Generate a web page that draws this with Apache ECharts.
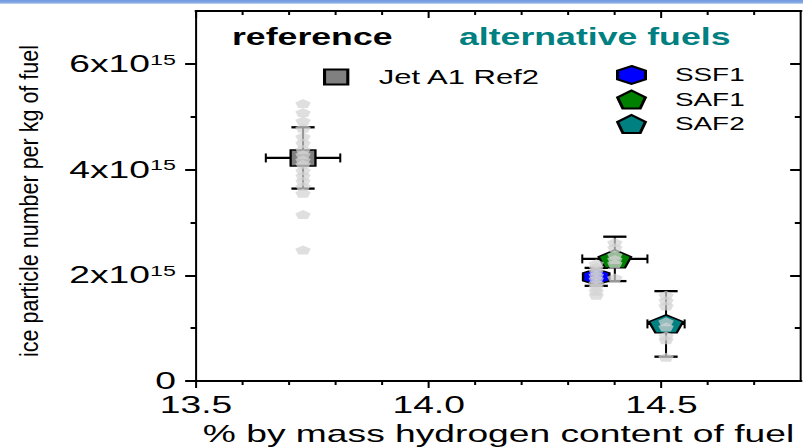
<!DOCTYPE html>
<html><head><meta charset="utf-8">
<script src="https://cdn.jsdelivr.net/npm/echarts@6/dist/echarts.min.js"></script>
<style>
html,body{margin:0;padding:0;background:#fff;overflow:hidden;}
#wrap{width:803px;height:447px;position:relative;overflow:hidden;background:#fff;}
#chart{width:518px;height:447px;transform:scaleX(1.55019);transform-origin:0 0;}
</style></head><body>
<div id="wrap"><div id="chart"></div></div>
<script>
// ---- data ----
const xMajorTicks = [13.5, 14.0, 14.5];
const xMinorTicks = [13.6, 13.7, 13.8, 13.9, 14.1, 14.2, 14.3, 14.4, 14.6, 14.7];
const yMajorTicks = [0, 2e15, 4e15, 6e15];
const yMinorTicks = [1e15, 3e15, 5e15];
const fuels = ['Jet A1 Ref2', 'SSF1', 'SAF1', 'SAF2'];
const meanH = [13.73, 14.36, 14.40, 14.51];
const meanN = [4.22e15, 1.97e15, 2.31e15, 1.08e15];
const errH = [0.08, 0.02, 0.07, 0.04];
const errN = [0.58e15, 0.17e15, 0.42e15, 0.62e15];
const refPointsN = [5.25e15, 5.08e15, 4.92e15, 4.78e15, 4.62e15, 4.50e15, 4.38e15, 4.28e15, 4.18e15, 4.10e15, 3.98e15, 3.88e15, 3.78e15, 3.68e15, 3.55e15, 3.15e15, 2.48e15];
const ssf1PointsN = [2.22e15, 2.15e15, 2.08e15, 2.00e15, 1.93e15, 1.85e15, 1.78e15, 1.70e15, 1.62e15];
const saf1PointsN = [2.62e15, 2.52e15, 2.38e15, 2.30e15, 2.22e15, 1.95e15];
const saf2PointsN = [1.62e15, 1.52e15, 1.42e15, 1.12e15, 1.02e15, 0.85e15, 0.78e15, 0.45e15];

// ---- styles ----
const SX = 803 / 518;
const FONT = '"Liberation Sans", Arial, sans-serif';
const PENT = 'path://M50,0 L100,38 L81,100 L19,100 L0,38 Z';
const HEX = 'path://M50,0 L100,25 L100,75 L50,100 L0,75 L0,25 Z';
const fuelSymbols = ['rect', HEX, PENT, PENT];
const fuelSizes = [[16, 16], [17, 16], [21, 18], [22, 18]];
const fuelColors = ['#808080', '#0000ff', '#008000', '#008080'];

const pointSets = [refPointsN, ssf1PointsN, saf1PointsN, saf2PointsN];
const grayData = [];
pointSets.forEach((arr, i) => arr.forEach(v => grayData.push([meanH[i], v])));

const XMIN = 13.5, XMAX = 14.8, YMIN = 0, YMAX = 7e15;

function xAxisDef(pos, custom, len, inside, withLabel, showLine, interval) {
  return {
    type: 'value', position: pos, min: XMIN, max: XMAX, interval: interval,
    axisLine: { show: showLine, onZero: false, lineStyle: { color: '#000', width: 2 } },
    axisTick: { show: true, inside: inside, length: len, customValues: custom, lineStyle: { color: '#000', width: 1.3 } },
    axisLabel: withLabel ? { show: true, customValues: custom, formatter: v => v.toFixed(1), fontSize: 24, color: '#000', margin: 12, fontFamily: FONT } : { show: false },
    splitLine: { show: false }
  };
}
function yAxisDef(pos, custom, len, inside, withLabel, showLine, interval) {
  return {
    type: 'value', position: pos, min: YMIN, max: YMAX, interval: interval,
    axisLine: { show: showLine, onZero: false, lineStyle: { color: '#000', width: 1.3 } },
    axisTick: { show: true, inside: inside, length: len, customValues: custom, lineStyle: { color: '#000', width: 2 } },
    axisLabel: withLabel ? {
      show: true, customValues: custom, margin: 13,
      formatter: v => v === 0 ? '{a|0}' : '{a|' + Math.round(v / 1e15) + 'x10}{b|15}',
      rich: {
        a: { fontSize: 24, color: '#000', fontFamily: FONT, lineHeight: 24 },
        b: { fontSize: 15, color: '#000', fontFamily: FONT, verticalAlign: 'top', lineHeight: 15 }
      }
    } : { show: false },
    splitLine: { show: false }
  };
}

const xAxes = [
  xAxisDef('bottom', xMajorTicks, 7, false, true, true, 0.5),
  xAxisDef('bottom', xMinorTicks, 4, false, false, false, 0.1),
  xAxisDef('top', xMajorTicks, 7, true, false, true, 0.5),
  xAxisDef('top', xMinorTicks, 4, true, false, false, 0.1)
];
xAxes[0].name = '% by mass hydrogen content of fuel';
xAxes[0].nameLocation = 'middle';
xAxes[0].nameGap = 38;
xAxes[0].nameTextStyle = { fontSize: 24, color: '#000', fontFamily: FONT };

const yAxes = [
  yAxisDef('left', yMajorTicks, 7, false, true, true, 2e15),
  yAxisDef('left', yMinorTicks, 3.5, false, false, false, 1e15),
  yAxisDef('right', yMajorTicks, 7, true, false, true, 2e15),
  yAxisDef('right', yMinorTicks, 4, true, false, false, 1e15)
];

const series = [];
// error bars
series.push({
  type: 'custom', name: 'errorbars', xAxisIndex: 0, yAxisIndex: 0, z: 1, silent: true,
  data: fuels.map((f, i) => [meanH[i], meanN[i], errH[i], errN[i]]),
  renderItem: function (params, api) {
    const x = api.value(0), y = api.value(1), ex = api.value(2), ey = api.value(3);
    const l = api.coord([x - ex, y]), r = api.coord([x + ex, y]);
    const t = api.coord([x, y + ey]), b = api.coord([x, y - ey]);
    const capW = 7.5, capH = 4.5;
    const vS = { stroke: '#000', lineWidth: 1.3 };
    const hS = { stroke: '#000', lineWidth: 2.3 };
    return {
      type: 'group', children: [
        { type: 'line', shape: { x1: l[0], y1: l[1], x2: r[0], y2: r[1] }, style: hS },
        { type: 'line', shape: { x1: t[0], y1: t[1], x2: b[0], y2: b[1] }, style: vS },
        { type: 'line', shape: { x1: t[0] - capW, y1: t[1], x2: t[0] + capW, y2: t[1] }, style: hS },
        { type: 'line', shape: { x1: b[0] - capW, y1: b[1], x2: b[0] + capW, y2: b[1] }, style: hS },
        { type: 'line', shape: { x1: l[0], y1: l[1] - capH, x2: l[0], y2: l[1] + capH }, style: vS },
        { type: 'line', shape: { x1: r[0], y1: r[1] - capH, x2: r[0], y2: r[1] + capH }, style: vS }
      ]
    };
  }
});
// mean markers
fuels.forEach((f, i) => {
  series.push({
    type: 'scatter', name: f, xAxisIndex: 0, yAxisIndex: 0, z: 3,
    symbol: fuelSymbols[i], symbolSize: fuelSizes[i],
    itemStyle: { color: fuelColors[i], borderColor: '#000', borderWidth: 1.5, opacity: 1 },
    emphasis: { disabled: true },
    data: [[meanH[i], meanN[i]]]
  });
});
// individual measurements
series.push({
  type: 'scatter', name: 'individual', xAxisIndex: 0, yAxisIndex: 0, z: 4, silent: true,
  symbol: PENT, symbolSize: [10, 9],
  itemStyle: { color: '#d2d2d2', opacity: 0.72, borderWidth: 0 },
  emphasis: { disabled: true },
  data: grayData
});

const option = {
  animation: false,
  backgroundColor: '#fff',
  textStyle: { fontFamily: FONT },
  grid: { left: 196 / SX, right: 518 - 801 / SX, top: 11, bottom: 66, containLabel: false, outerBoundsMode: 'none' },
  xAxis: xAxes,
  yAxis: yAxes,
  title: [
    { text: 'reference', left: 232 / SX, top: 25, padding: 0, textStyle: { fontSize: 23, fontWeight: 'bold', color: '#000', fontFamily: FONT } },
    { text: 'alternative fuels', left: 459 / SX, top: 25, padding: 0, textStyle: { fontSize: 23, fontWeight: 'bold', color: '#008080', fontFamily: FONT } }
  ],
  legend: [
    {
      data: ['Jet A1 Ref2'], left: 323 / SX, top: 67, padding: 0, selectedMode: false,
      itemWidth: 15, itemHeight: 15,
      textStyle: { fontSize: 20, color: '#000', fontFamily: FONT, padding: [0, 0, 0, 15] }
    },
    {
      data: ['SSF1', 'SAF1', 'SAF2'], orient: 'vertical', left: 616 / SX, top: 65, padding: 0, selectedMode: false,
      itemWidth: 18, itemHeight: 19, itemGap: 4.5,
      textStyle: { fontSize: 18, color: '#000', fontFamily: FONT, padding: [0, 0, 0, 14] }
    }
  ],
  graphic: [
    {
      type: 'rect', x: 0, y: 0, shape: { width: 518, height: 4 }, silent: true,
      style: { fill: new echarts.graphic.LinearGradient(0, 0, 0, 1, [
        { offset: 0, color: '#6f98dc' }, { offset: 0.65, color: '#85aae4' }, { offset: 1, color: '#d2e2f6' }]) }
    },
    {
      type: 'text', x: 29 / SX, y: 201, rotation: Math.PI / 2, scaleX: 1.265, silent: true,
      style: { text: 'ice particle number per kg of fuel', font: '17px "Liberation Sans", Arial, sans-serif', fill: '#000', align: 'center', verticalAlign: 'middle' }
    }
  ],
  series: series
};

const chart = echarts.init(document.getElementById('chart'), null, { renderer: 'svg', width: 518, height: 447 });
chart.setOption(option);
</script>
</body></html>
